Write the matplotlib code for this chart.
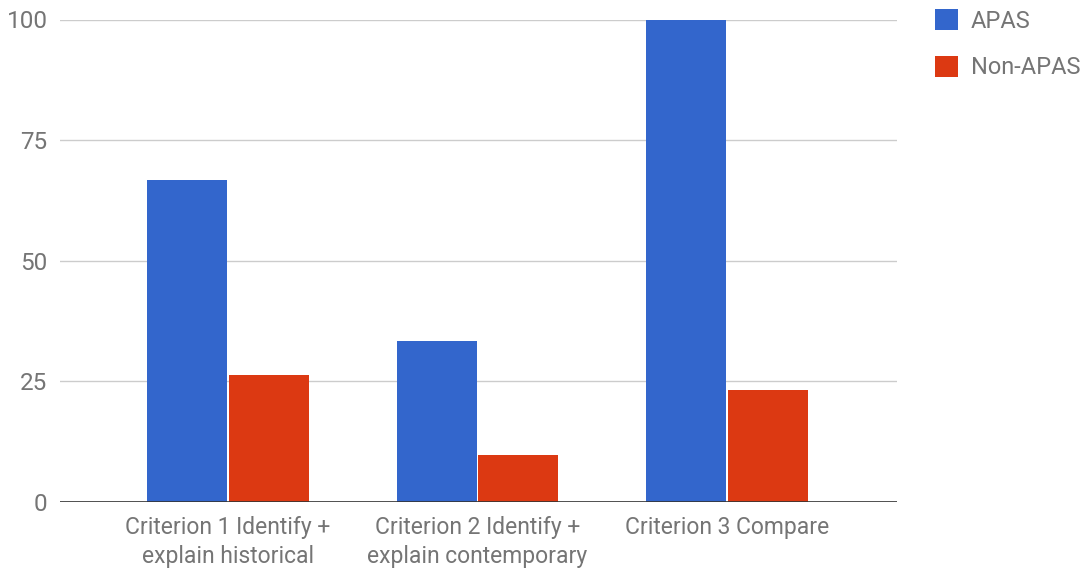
import matplotlib.pyplot as plt
import numpy as np

plt.rcParams['font.family'] = ['Roboto', 'DejaVu Sans']

# scores per criterion
criteria = ["Criterion 1 Identify +\nexplain historical",
            "Criterion 2 Identify +\nexplain contemporary",
            "Criterion 3 Compare"]
apas = [66.7, 33.3, 100.0]
non_apas = [26.3, 9.7, 23.2]
yticks = [0, 25, 50, 75, 100]

blue = "#3366CC"
red = "#DC3912"
text_gray = "#757575"

W, H = 1086, 569
fig = plt.figure(figsize=(W / 100, H / 100), dpi=100)
ax = fig.add_axes([60 / W, 1 - 502 / H, (897 - 60) / W, (502 - 19.5) / H])

x = np.arange(len(criteria))
bw = 0.32
gap = 0.004
ax.bar(x - bw / 2 - gap, apas, bw, color=blue, label="APAS", zorder=3)
ax.bar(x + bw / 2 + gap, non_apas, bw, color=red, label="Non-APAS", zorder=3)

ax.set_xlim(-0.673, 2.681)
ax.set_ylim(0, 100)
ax.set_yticks(yticks)
ax.set_xticks(x)
ax.set_xticklabels(criteria, fontsize=16.5, linespacing=1.35)
ax.grid(axis='y', color='#cccccc', linewidth=1, zorder=0)
ax.axhline(0, color='#333333', linewidth=1.2, zorder=4)

for s in ax.spines.values():
    s.set_visible(False)
ax.tick_params(length=0, colors=text_gray)
ax.tick_params(axis='y', labelsize=17.5, pad=9)
ax.tick_params(axis='x', pad=10)

fig.legend(loc='upper left', bbox_to_anchor=(914 / W, 1 + 12 / H),
           frameon=False, fontsize=17, labelcolor=text_gray,
           handlelength=0.95, handleheight=0.95, handletextpad=0.55,
           labelspacing=1.0)

fig.savefig("out.png", dpi=100)
